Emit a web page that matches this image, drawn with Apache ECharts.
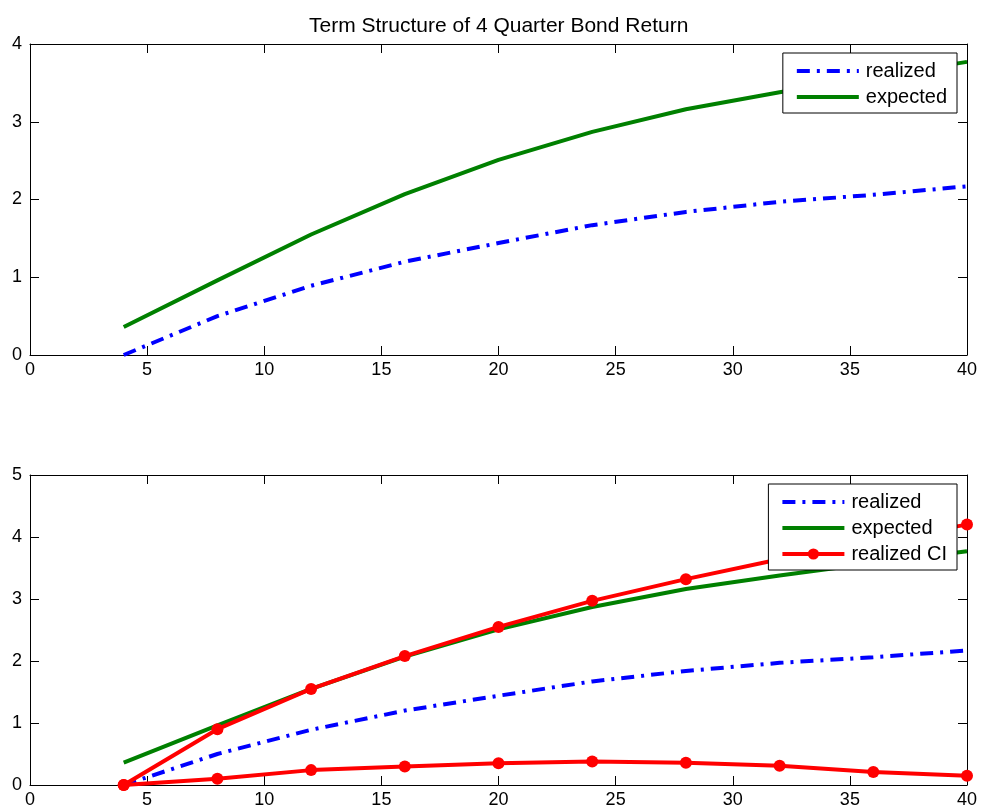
<!DOCTYPE html>
<html>
<head>
<meta charset="utf-8">
<script src="https://cdn.jsdelivr.net/npm/echarts@6/dist/echarts.min.js"></script>
<style>
  html, body { margin: 0; padding: 0; background: #fff; }
  #chart { width: 982px; height: 812px; }
</style>
</head>
<body>
<div id="chart"></div>
<script>
// horizon in quarters
const horizons = [4, 8, 12, 16, 20, 24, 28, 32, 36, 40];
const realized = [0, 0.50, 0.89, 1.20, 1.44, 1.67, 1.84, 1.97, 2.06, 2.17];
const expected = [0.36, 0.96, 1.55, 2.07, 2.51, 2.87, 3.16, 3.38, 3.58, 3.77];
const ciUpper = [0, 0.90, 1.55, 2.08, 2.55, 2.97, 3.32, 3.64, 3.94, 4.20];
const ciLower = [0, 0.10, 0.24, 0.30, 0.35, 0.38, 0.36, 0.31, 0.21, 0.15];

const pairs = ys => horizons.map((x, i) => [x, ys[i]]);
const FONT = 'Liberation Sans, Arial, sans-serif';

window.addEventListener('load', () => {
    let chart = echarts.init(document.getElementById('chart'));

    // one panel's axes: bottom/left with labels, top/right only for the box + ticks
    const xAx = (grid, pos, labels) => ({
        type: 'value', gridIndex: grid, position: pos, min: 0, max: 40, interval: 5,
        axisLine: { show: true, onZero: false, lineStyle: { color: '#000', width: 1 } },
        axisTick: { show: true, inside: true, length: 9, lineStyle: { color: '#000' } },
        axisLabel: { show: labels, color: '#000', fontSize: 18, fontFamily: FONT, margin: 6 },
        splitLine: { show: false }
    });
    const yAx = (grid, pos, labels, max) => ({
        type: 'value', gridIndex: grid, position: pos, min: 0, max: max, interval: 1,
        axisLine: { show: true, onZero: false, lineStyle: { color: '#000', width: 1 } },
        axisTick: { show: true, inside: true, length: 9, lineStyle: { color: '#000' } },
        axisLabel: { show: labels, color: '#000', fontSize: 18, fontFamily: FONT, margin: 8 },
        splitLine: { show: false }
    });

    const blueLine = { color: '#0000ff', width: 4, type: [13, 7, 3, 7] };
    const greenLine = { color: '#008000', width: 4, type: 'solid' };
    const redLine = { color: '#ff0000', width: 4, type: 'solid' };

    const mk = (name, data, ls, grid, sym) => ({
        name: name, type: 'line', data: data,
        xAxisIndex: grid * 2, yAxisIndex: grid * 2,
        lineStyle: ls, color: ls.color, itemStyle: { color: ls.color },
        symbol: sym ? 'circle' : 'none', symbolSize: 12, showSymbol: !!sym,
        animation: false, z: 3
    });

    // legend entries: thick line, circle only for the CI entry
    const noMark = name => ({ name: name, itemStyle: { opacity: 0 }, lineStyle: { width: 4 } });
    const withMark = name => ({ name: name, lineStyle: { width: 4 } });

    const legendBase = {
        orient: 'vertical', right: 25, align: 'left',
        borderColor: '#000', borderWidth: 1, backgroundColor: '#fff',
        itemWidth: 62, itemHeight: 14, itemGap: 6, padding: [8, 10, 6, 12],
        borderRadius: 0,
        textStyle: { color: '#000', fontSize: 20, fontFamily: FONT, padding: [0, 0, 0, 2] }
    };

    let option = {
        backgroundColor: '#fff',
        animation: false,
        title: {
            text: 'Term Structure of 4 Quarter Bond Return',
            left: 304, top: 11,
            textStyle: { color: '#000', fontSize: 21, fontWeight: 'normal', fontFamily: FONT }
        },
        grid: [
            { left: 30, right: 15, top: 44, height: 311 },
            { left: 30, right: 15, top: 475, height: 310 }
        ],
        xAxis: [xAx(0, 'bottom', true), xAx(0, 'top', false), xAx(1, 'bottom', true), xAx(1, 'top', false)],
        yAxis: [yAx(0, 'left', true, 4), yAx(0, 'right', false, 4), yAx(1, 'left', true, 5), yAx(1, 'right', false, 5)],
        legend: [
            Object.assign({}, legendBase, { top: 53, data: [noMark('realized'), noMark('expected')] }),
            Object.assign({}, legendBase, { top: 484, data: [noMark('realized'), noMark('expected'), withMark('realized CI')] })
        ],
        series: [
            mk('realized', pairs(realized), blueLine, 0, false),
            mk('expected', pairs(expected), greenLine, 0, false),
            mk('realized', pairs(realized), blueLine, 1, false),
            mk('expected', pairs(expected), greenLine, 1, false),
            mk('realized CI', pairs(ciUpper), redLine, 1, true),
            mk('realized CI', pairs(ciLower), redLine, 1, true)
        ]
    };
    chart.setOption(option);
});
</script>
</body>
</html>
